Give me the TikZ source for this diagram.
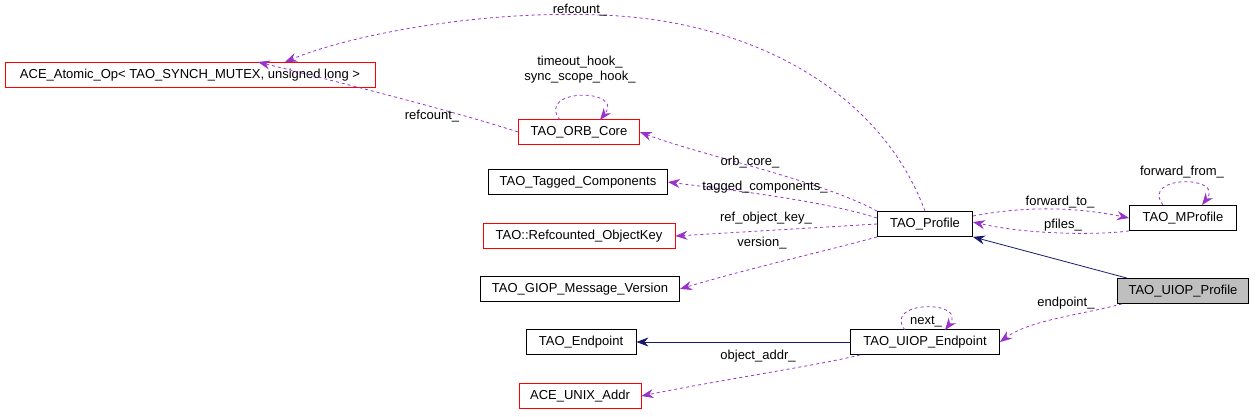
\documentclass[tikz,border=0pt]{standalone}
\usepackage{fontspec}
\setmainfont{Liberation Sans}
\usetikzlibrary{arrows.meta}
\begin{document}
\begin{tikzpicture}[x=1pt,y=-1pt,
  box/.style={draw=#1,fill=white,minimum height=25pt,inner xsep=5pt,font=\fontsize{13}{15}\selectfont,line width=0.8pt},
  box/.default=black,
  dep/.style={draw={rgb,255:red,153;green,50;blue,204},dashed,line width=0.8pt,-{Stealth[length=12pt,width=9pt]}},
  inh/.style={draw={rgb,255:red,25;green,25;blue,112},line width=0.8pt,-{Stealth[length=12pt,width=9pt]}},
  lab/.style={font=\fontsize{13}{15}\selectfont,align=center,inner sep=1pt}]
\useasboundingbox (0,0) rectangle (1256,416);
\node[box=red,minimum width=370pt] (ace) at (190,75) {ACE\_Atomic\_Op< TAO\_SYNCH\_MUTEX, unsigned long >};
\node[box=red,minimum width=121pt] (orb) at (579,132) {TAO\_ORB\_Core};
\node[box,minimum width=179pt] (tag) at (578,182) {TAO\_Tagged\_Components};
\node[box=red,minimum width=192pt] (key) at (579,236) {TAO::Refcounted\_ObjectKey};
\node[box,minimum width=199pt] (giop) at (580,289) {TAO\_GIOP\_Message\_Version};
\node[box,minimum width=95pt] (prof) at (925,224) {TAO\_Profile};
\node[box,minimum width=107pt] (mprof) at (1183,218) {TAO\_MProfile};
\node[box,minimum width=131pt,fill={rgb,255:red,191;green,191;blue,191}] (uprof) at (1183,291) {TAO\_UIOP\_Profile};
\node[box,minimum width=149pt] (uend) at (925,342) {TAO\_UIOP\_Endpoint};
\node[box,minimum width=110pt] (end) at (581,342) {TAO\_Endpoint};
\node[box=red,minimum width=122pt] (addr) at (580,396) {ACE\_UNIX\_Addr};

\draw[dep] (prof.north) .. controls (880,90) and (750,20) .. (600,15) .. controls (480,10) and (350,35) .. (285,62);
\node[lab] at (580,10) {refcount\_};
\draw[dep] (orb.west) .. controls (450,110) and (330,80) .. (258,62);
\node[lab] at (432,116) {refcount\_};
\draw[dep] (560,120) .. controls (535,88) and (625,88) .. (600,120);
\node[lab] at (580,70) {timeout\_hook\_\\sync\_scope\_hook\_};
\draw[dep] (prof.north west) .. controls (820,180) and (700,155) .. (orb.east);
\node[lab] at (750,162) {orb\_core\_};
\draw[dep] (prof.west) ++(0,-6) .. controls (820,200) and (730,190) .. (tag.east);
\node[lab] at (765,187) {tagged\_components\_};
\draw[dep] (prof.west) -- (key.east);
\node[lab] at (766,218) {ref\_object\_key\_};
\draw[dep] (prof.south west) .. controls (830,250) and (750,268) .. (giop.east);
\node[lab] at (762,243) {version\_};
\draw[dep] (prof.east) ++(0,-8) .. controls (1030,205) and (1080,208) .. (mprof.west);
\node[lab] at (1060,202) {forward\_to\_};
\draw[dep] (mprof.south west) .. controls (1100,235) and (1030,235) .. ([yshift=2pt]prof.east);
\node[lab] at (1063,225) {pfiles\_};
\draw[dep] (1163,205) .. controls (1140,175) and (1225,175) .. (1202,205);
\node[lab] at (1182,172) {forward\_from\_};
\draw[inh] (uprof.north west) ++(10,0) -- (prof.south east);
\draw[dep] (uprof.south west) ++(5,0) .. controls (1080,315) and (1030,320) .. (uend.east);
\node[lab] at (1066,303) {endpoint\_};
\draw[dep] (905,330) .. controls (882,300) and (968,300) .. (945,330);
\node[lab] at (926,322) {next\_};
\draw[inh] (uend.west) -- (end.east);
\draw[dep] (uend.south west) ++(10,0) .. controls (820,365) and (720,380) .. (addr.east);
\node[lab] at (758,356) {object\_addr\_};
\end{tikzpicture}
\end{document}
